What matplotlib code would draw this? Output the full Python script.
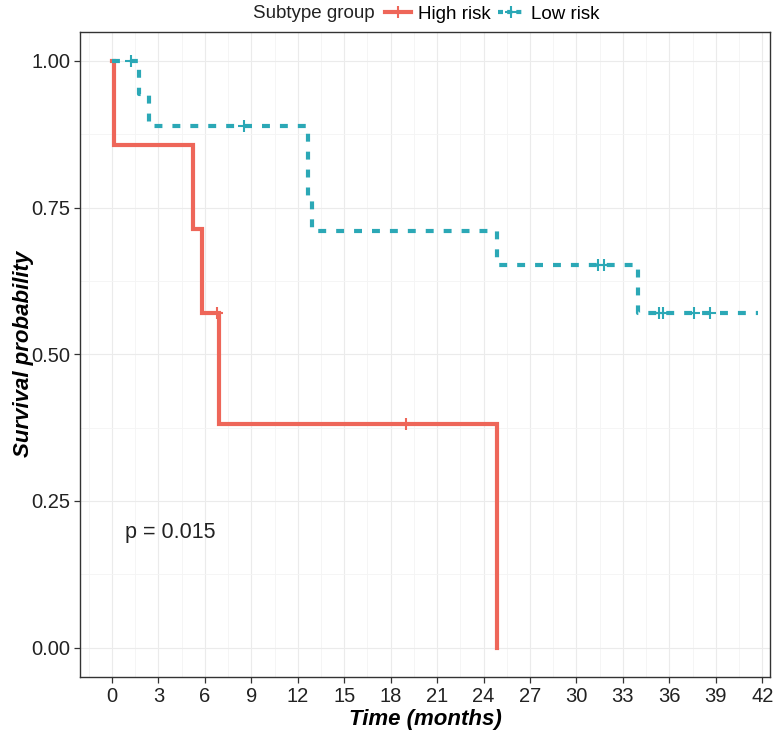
import matplotlib
matplotlib.use("Agg")
import matplotlib.pyplot as plt
from matplotlib.lines import Line2D
from matplotlib.ticker import MultipleLocator, FormatStrFormatter

plt.rcParams['font.family'] = ['Liberation Sans', 'DejaVu Sans']

# Kaplan-Meier steps (months, survival)
high_times = [0, 0.13, 5.2, 5.8, 6.9, 24.87]
high_surv = [1.0, 0.857, 0.714, 0.571, 0.381, 0.0]
high_end = 24.87
high_cens_t = [6.78, 19.0]
high_cens_s = [0.571, 0.381]

low_times = [0, 1.74, 2.4, 12.64, 12.92, 24.87, 33.96]
low_surv = [1.0, 0.944, 0.889, 0.770, 0.711, 0.652, 0.571]
low_end = 41.7
low_cens_t = [1.2, 8.5, 31.4, 31.8, 35.3, 35.6, 37.6, 38.6]
low_cens_s = [1.0, 0.889, 0.652, 0.652, 0.571, 0.571, 0.571, 0.571]

group_labels = ["High risk", "Low risk"]
p_text = "p = 0.015"

RED = "#EE6659"
TEAL = "#2BA8B6"
LW = 3.0
DASH = (0, (1.9, 2.4))
MS = 9
MEW = 1.5

fig = plt.figure(figsize=(7.8, 7.36), dpi=100)
ax = fig.add_axes([80/780, 59/736, 690/780, 645.4/736])

# high risk: solid
ax.step(high_times + [high_end], high_surv + [high_surv[-1]], where="post",
        color=RED, lw=LW, solid_joinstyle="miter", zorder=3)
ax.plot(high_cens_t, high_cens_s, ls="none", marker="+", ms=MS, mew=MEW,
        color=RED, zorder=4)

# low risk: dashed
ax.step(low_times + [low_end], low_surv + [low_surv[-1]], where="post",
        color=TEAL, lw=LW, ls=DASH, zorder=3)
ax.plot(low_cens_t, low_cens_s, ls="none", marker="+", ms=MS, mew=MEW,
        color=TEAL, zorder=4)

ax.set_xlim(-2.07, 42.5)
ax.set_ylim(-0.05, 1.05)
ax.xaxis.set_major_locator(MultipleLocator(3))
ax.xaxis.set_minor_locator(MultipleLocator(1.5))
ax.yaxis.set_major_locator(MultipleLocator(0.25))
ax.yaxis.set_minor_locator(MultipleLocator(0.125))
ax.yaxis.set_major_formatter(FormatStrFormatter("%.2f"))

ax.grid(True, which="major", color="#EBEBEB", lw=0.8)
ax.grid(True, which="minor", color="#F4F4F4", lw=0.6)
ax.set_axisbelow(True)
ax.tick_params(which="major", direction="out", length=4, width=0.9,
               color="#333333", labelsize=14.5, labelcolor="#222222", pad=3)
ax.tick_params(which="minor", length=0)
for s in ax.spines.values():
    s.set_color("#333333")
    s.set_linewidth(1.0)

ax.set_xlabel("Time (months)", fontsize=16, fontweight="bold", fontstyle="italic",
              labelpad=2)
ax.set_ylabel("Survival probability", fontsize=16, fontweight="bold",
              fontstyle="italic", labelpad=-2)

ax.text(0.84, 0.196, p_text, fontsize=15.5, va="center", ha="left", color="#222222")

# legend across the top
fig.text(253/780, 1 - 14/736, "Subtype group", fontsize=13.5, va="center",
         ha="left", color="#222222")
handles = [
    Line2D([], [], color=RED, lw=LW, marker="+", ms=MS, mew=MEW),
    Line2D([], [], color=TEAL, lw=LW, ls=(0, (1.2, 1.0)), marker="+", ms=MS, mew=MEW),
]
fig.legend(handles, group_labels, loc="center left",
           bbox_to_anchor=(385/780, 1 - 14/736), ncol=2, frameon=False,
           fontsize=13.5, handlelength=1.4, handletextpad=0.35,
           columnspacing=0.4, borderpad=0, borderaxespad=0)

fig.savefig("out.png", dpi=100)
